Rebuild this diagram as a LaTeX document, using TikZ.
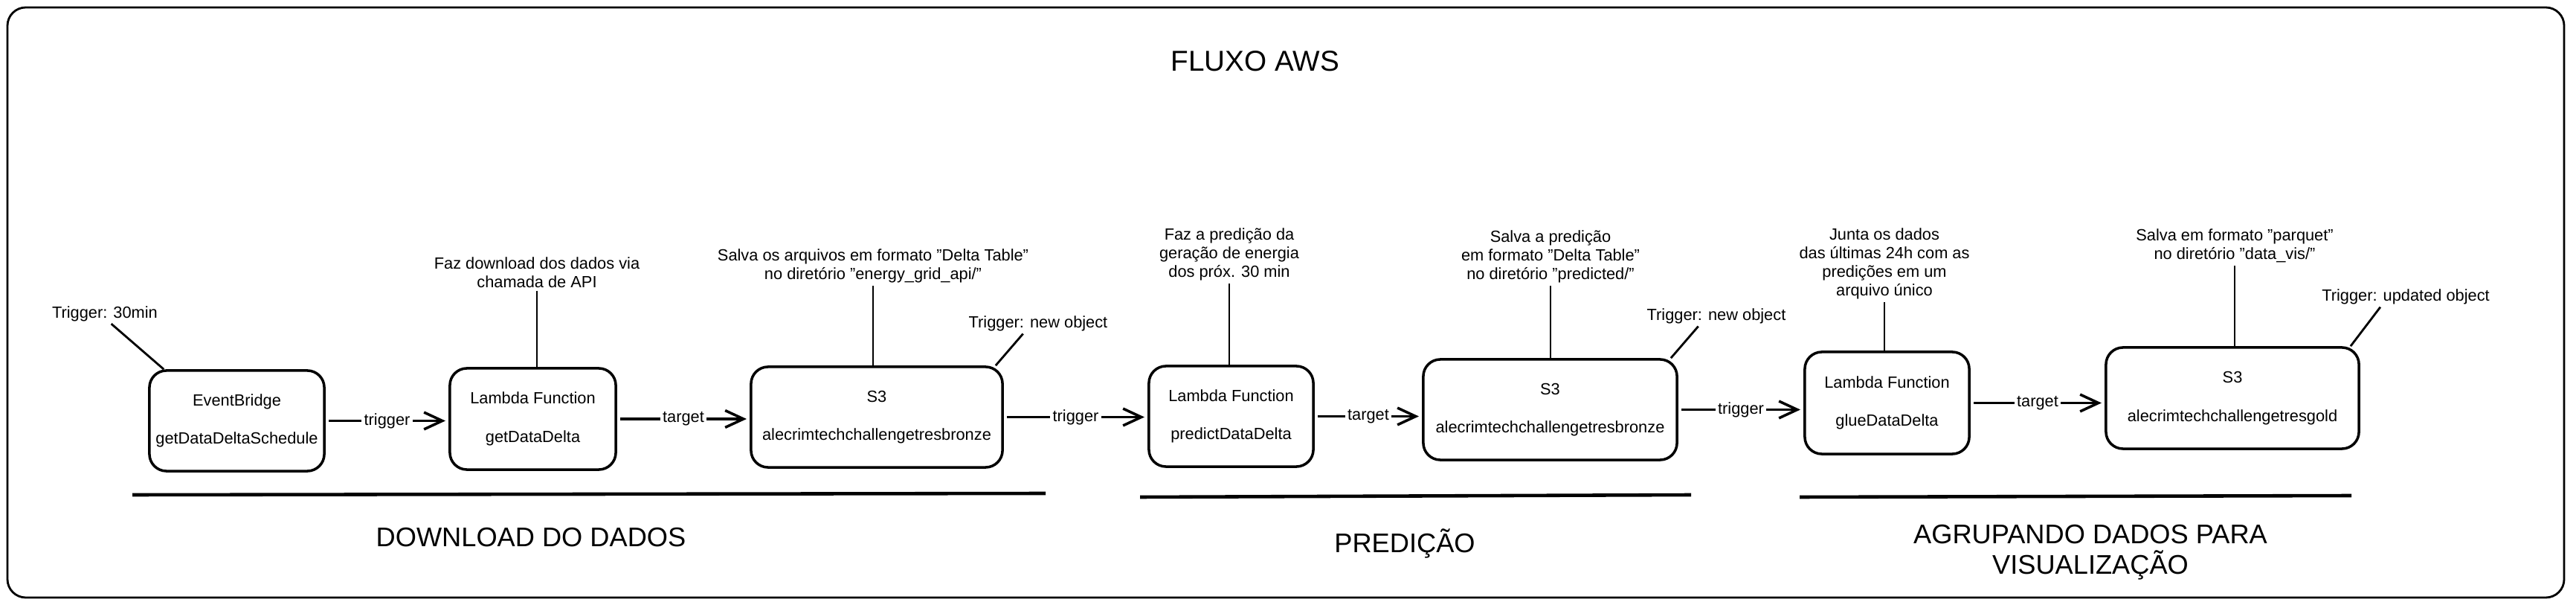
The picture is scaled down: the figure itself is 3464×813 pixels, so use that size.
\documentclass[tikz,border=0pt]{standalone}
\usepackage{fontspec}
\setmainfont{Liberation Sans}
\usetikzlibrary{arrows.meta}
\newcommand{\annfont}{\fontsize{6.2}{7.1}\selectfont}
\newcommand{\sectfont}{\fontsize{10.3}{11.7}\selectfont}
\newcommand{\ttlfont}{\fontsize{11}{13}\selectfont}
\tikzset{
  box/.style={draw, line width=1pt, rounded corners=6.5pt, align=center, font=\annfont, inner sep=0pt, minimum height=1.35cm},
  ann/.style={font=\annfont, align=center, inner sep=0pt},
  annline/.style={line width=0.8pt, shorten <=1pt},
  arr/.style={line width=1pt, -{Straight Barb[length=7pt,width=6.5pt]}, shorten <=1.2pt, shorten >=1.2pt},
  lbl/.style={font=\annfont, fill=white, inner sep=1pt},
  sect/.style={font=\sectfont, align=center, inner sep=0pt},
  sectline/.style={line width=1.3pt},
  frame/.style={line width=0.8pt, rounded corners=7pt},
}
\begin{document}
\begin{tikzpicture}[x=0.01cm,y=-0.01cm]
\useasboundingbox[fill=white] (0,0) rectangle (3464,813);
\draw[frame] (10,10) rectangle (3448,803);

\node[font=\ttlfont, inner sep=0pt] (ttl) at (1688,82) {FLUXO AWS};

% boxes
\node[box, minimum width=2.35cm] (eb) at (318.5,565.5) {EventBridge\\[7.5pt]getDataDeltaSchedule};
\node[box, minimum width=2.23cm, minimum height=1.36cm] (l1) at (716.5,563) {Lambda Function\\[7.5pt]getDataDelta};
\node[box, minimum width=3.38cm] (s1) at (1179,560.5) {S3\\[7.5pt]alecrimtechchallengetresbronze};
\node[box, minimum width=2.21cm] (l2) at (1655.5,559.5) {Lambda Function\\[7.5pt]predictDataDelta};
\node[box, minimum width=3.41cm] (s2) at (2084.5,550.5) {S3\\[7.5pt]alecrimtechchallengetresbronze};
\node[box, minimum width=2.21cm, minimum height=1.37cm] (l3) at (2537.5,541.5) {Lambda Function\\[7.5pt]glueDataDelta};
\node[box, minimum width=3.40cm, minimum height=1.36cm] (s3) at (3002,535) {S3\\[7.5pt]alecrimtechchallengetresgold};

% arrows
\draw[arr] (eb.east) -- (eb.east -| l1.west) node[midway,lbl]{trigger};
\draw[arr] (l1.east) -- (l1.east -| s1.west) node[midway,lbl]{target};
\draw[arr] (s1.east) -- (s1.east -| l2.west) node[midway,lbl]{trigger};
\draw[arr] (l2.east) -- (l2.east -| s2.west) node[midway,lbl]{target};
\draw[arr] (s2.east) -- (s2.east -| l3.west) node[midway,lbl]{trigger};
\draw[arr] (l3.east) -- (l3.east -| s3.west) node[midway,lbl]{target};

% annotations
\node[ann] (t30) at (141,422) {Trigger: 30min};
\node[ann] (tdl) at (722,366) {Faz download dos dados via\\chamada de API};
\node[ann] (ts1) at (1174,357) {Salva os arquivos em formato "Delta Table"\\no diretório "energy\_grid\_api/"};
\node[ann] (tno1) at (1396,435) {Trigger: new object};
\node[ann] (tpr) at (1653,342) {Faz a predição da\\geração de energia\\dos próx. 30 min};
\node[ann] (ts2) at (2085,345) {Salva a predição\\em formato "Delta Table"\\no diretório "predicted/"};
\node[ann] (tno2) at (2308,425) {Trigger: new object};
\node[ann] (tju) at (2534,354.5) {Junta os dados\\das últimas 24h com as\\predições em um\\arquivo único};
\node[ann] (ts3) at (3005,330.5) {Salva em formato "parquet"\\no diretório "data\_vis/"};
\node[ann] (tuo) at (3235,399) {Trigger: updated object};

\draw[annline] ([xshift=0.06cm]t30.south) -- ([xshift=0.21cm]eb.north west);
\draw[annline] (tdl.south) -- (tdl.south |- l1.north);
\draw[annline] (ts1.south) -- (ts1.south |- s1.north);
\draw[annline] ([xshift=-0.18cm]tno1.south) -- ([xshift=-0.11cm]s1.north east);
\draw[annline] (tpr.south) -- (tpr.south |- l2.north);
\draw[annline] (ts2.south) -- (ts2.south |- s2.north);
\draw[annline] ([xshift=-0.22cm]tno2.south) -- ([xshift=-0.1cm]s2.north east);
\draw[annline] (tju.south) -- (tju.south |- l3.north);
\draw[annline] (ts3.south) -- (ts3.south |- s3.north);
\draw[annline] ([xshift=-0.32cm]tuo.south) -- ([xshift=-0.13cm]s3.north east);

% sections
\draw[sectline] (178,665) -- (1406,663);
\draw[sectline] (1533,668) -- (2274,665);
\draw[sectline] (2420,668) -- (3162,666);
\node[sect] (sdl) at (714,722) {DOWNLOAD DO DADOS};
\node[sect] (spr) at (1889,730) {PREDIÇÃO};
\node[sect] (sag) at (2811,742) {AGRUPANDO DADOS PARA\\VISUALIZAÇÃO};
\end{tikzpicture}
\end{document}
